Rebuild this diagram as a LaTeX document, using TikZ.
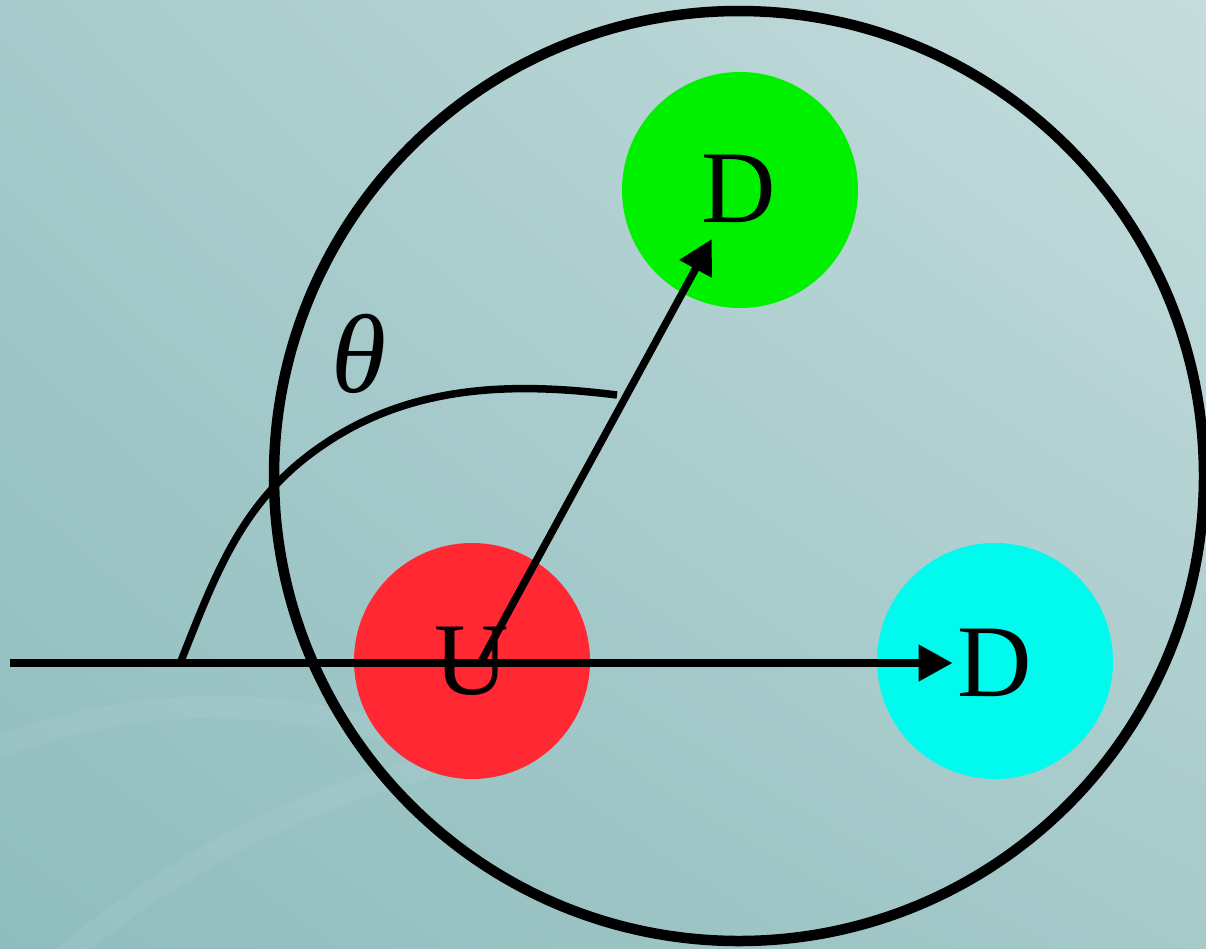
\documentclass[tikz,border=0pt]{standalone}
\usepackage{fontspec}
\setmainfont{Liberation Serif}
\usetikzlibrary{arrows.meta,shadings}
\definecolor{bgUL}{HTML}{A6CACB}
\definecolor{bgUR}{HTML}{C6DDDD}
\definecolor{bgLL}{HTML}{8FBDBE}
\definecolor{bgLR}{HTML}{A6C9CA}
\definecolor{ugreen}{HTML}{00F000}
\definecolor{ured}{HTML}{FF2833}
\definecolor{ucyan}{HTML}{00FAEE}
\tikzset{
  ball/.style={circle, inner sep=0pt, minimum size=236pt},
  dlabel/.style={inner xsep=5pt, inner ysep=16pt, font=\fontsize{103}{110}\selectfont},
  thinline/.style={line width=7.5pt},
  arr/.style={line width=7.5pt, -{Triangle[length=34pt,width=35pt]}},
  swoosh/.style={white, opacity=0.06, line width=22pt, line cap=round}
}
\begin{document}
\begin{tikzpicture}[x=1pt,y=-1pt]
  \useasboundingbox (0,0) rectangle (1206,948);
  \shade[upper left=bgUL, upper right=bgUR, lower left=bgLL, lower right=bgLR] (0,0) rectangle (1206,948);
  % faint background swooshes
  \draw[swoosh] (-10,750) .. controls (120,700) and (260,690) .. (420,740);
  \draw[swoosh] (60,960) .. controls (180,860) and (300,800) .. (420,770);
  % big circle
  \node[circle, draw, line width=10.5pt, inner sep=0pt, minimum size=930pt] (big) at (739,476) {};
  % balls
  \node[ball, fill=ugreen] (gball) at (740,190) {};
  \node[ball, fill=ured] (rball) at (472,661) {};
  \node[ball, fill=ucyan] (cball) at (995,661) {};
  % labels
  \node[dlabel] (Dg) at (739,189) {D};
  \node[dlabel] (Dc) at (995,663) {D};
  \node[dlabel] (U) at (472,661) {U};
  \node[font=\fontsize{112}{120}\selectfont\itshape] (th) at (359,354) {θ};
  % angle arc
  \coordinate (a0) at (181,661);
  \coordinate (am) at (320,447);
  \coordinate (a1) at (617,395);
  \draw[thinline] (a0) .. controls (216,573) and (242,501) .. (am)
                       .. controls (410,384) and (513,382) .. (a1);
  % lines
  \coordinate (left) at (10,663);
  \coordinate (o) at (481,662);
  \draw[arr] (left) -- (Dc);
  \draw[arr] (o) -- (Dg);
\end{tikzpicture}
\end{document}
